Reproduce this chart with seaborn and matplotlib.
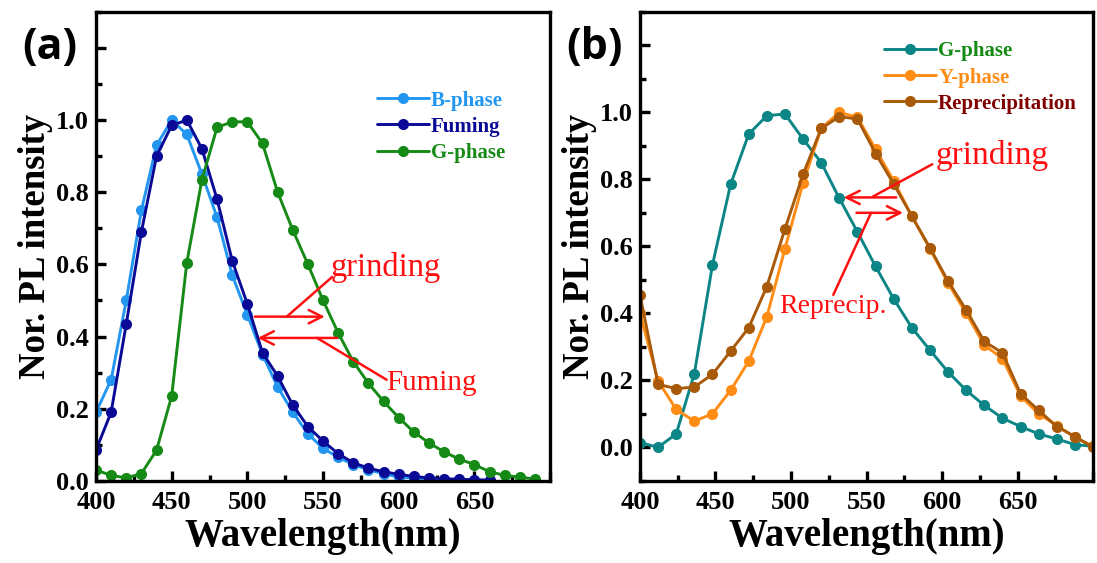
import seaborn as sns
import matplotlib
matplotlib.use('Agg')
import matplotlib.pyplot as plt
import pandas as pd
import numpy as np
from matplotlib.ticker import MultipleLocator, FuncFormatter

# Panel (a): spectra sampled every 10 nm
wl_a = list(range(400, 700, 10))
b_phase = [0.19, 0.28, 0.50, 0.75, 0.93, 1.00, 0.96, 0.85, 0.73, 0.57, 0.46, 0.35, 0.26, 0.19, 0.13,
           0.09, 0.065, 0.045, 0.03, 0.02, 0.01, 0.008, 0.005, 0.003, 0.002, 0.001]
fuming = [0.085, 0.19, 0.435, 0.69, 0.90, 0.985, 1.00, 0.92, 0.78, 0.61, 0.49, 0.355, 0.29, 0.21, 0.15,
          0.11, 0.075, 0.05, 0.035, 0.025, 0.018, 0.012, 0.008, 0.006, 0.004, 0.003, 0.002]
g_phase_a = [0.03, 0.015, 0.008, 0.02, 0.085, 0.235, 0.605, 0.835, 0.98, 0.995, 0.995, 0.935, 0.80, 0.695,
             0.60, 0.50, 0.41, 0.33, 0.27, 0.22, 0.175, 0.135, 0.105, 0.08, 0.06, 0.045, 0.025, 0.015,
             0.01, 0.005]

# Panel (b): spectra sampled every 12 nm
wl_b = list(range(400, 701, 12))
g_phase_b = [0.014, 0.0, 0.04, 0.22, 0.545, 0.785, 0.935, 0.99, 0.995, 0.92, 0.85, 0.743, 0.643, 0.54,
             0.443, 0.357, 0.29, 0.225, 0.17, 0.125, 0.087, 0.062, 0.04, 0.025, 0.008, 0.003]
y_phase = [0.40, 0.198, 0.113, 0.078, 0.10, 0.17, 0.257, 0.39, 0.593, 0.79, 0.952, 1.0, 0.985, 0.89,
           0.795, 0.69, 0.593, 0.49, 0.40, 0.305, 0.265, 0.153, 0.10, 0.065, 0.03, 0.003]
reprecip = [0.455, 0.188, 0.175, 0.18, 0.218, 0.287, 0.357, 0.48, 0.652, 0.815, 0.952, 0.987, 0.98,
            0.877, 0.786, 0.69, 0.595, 0.496, 0.41, 0.316, 0.282, 0.16, 0.11, 0.062, 0.032, 0.0]

series_a = [('B-phase', wl_a[:len(b_phase)], b_phase, '#2396f0', '#2396f0'),
            ('Fuming', wl_a[:len(fuming)], fuming, '#0a0a96', '#0a0a96'),
            ('G-phase', wl_a, g_phase_a, '#168a16', '#168a16')]
series_b = [('G-phase', wl_b, g_phase_b, '#0b8585', '#138a13'),
            ('Y-phase', wl_b, y_phase, '#ff8c14', '#ff8c14'),
            ('Reprecipitation', wl_b, reprecip, '#a85a0a', '#800000')]

sns.set_theme(style='ticks')
plt.rcParams['font.family'] = ['Liberation Serif', 'DejaVu Serif']
plt.rcParams['axes.linewidth'] = 2.4
for k in ['text.color', 'axes.edgecolor', 'axes.labelcolor', 'xtick.color', 'ytick.color']:
    plt.rcParams[k] = 'black'

fig = plt.figure(figsize=(10.97, 5.63), dpi=100)
ax_a = fig.add_axes([0.0875, 0.146, 0.414, 0.833])
ax_b = fig.add_axes([0.5834, 0.146, 0.413, 0.833])


def draw(ax, series):
    for name, x, y, c, tc in series:
        df = pd.DataFrame({'wl': x, 'I': y})
        sns.lineplot(data=df, x='wl', y='I', ax=ax, color=c, lw=2.1, marker='o', markersize=8,
                     markeredgewidth=0, label=name)


def style(ax, ylim):
    ax.set_xlim(400, 700)
    ax.set_ylim(*ylim)
    ax.xaxis.set_major_locator(MultipleLocator(50))
    ax.xaxis.set_minor_locator(MultipleLocator(25))
    ax.yaxis.set_major_locator(MultipleLocator(0.2))
    ax.yaxis.set_minor_locator(MultipleLocator(0.1))
    ax.xaxis.set_major_formatter(FuncFormatter(lambda v, p: '' if v > 660 else '%d' % v))
    ax.yaxis.set_major_formatter(FuncFormatter(lambda v, p: '' if v > 1.05 or v < -0.05 else '%.1f' % v))
    ax.tick_params(which='major', direction='in', length=7, width=2.4, labelsize=19, pad=5)
    ax.tick_params(axis='x', which='major', pad=7)
    ax.tick_params(which='minor', direction='in', length=4, width=2.4)
    for lab in ax.get_xticklabels() + ax.get_yticklabels():
        lab.set_fontweight('bold')
    ax.set_xlabel('Wavelength(nm)', fontsize=28, fontweight='bold', labelpad=3)
    ax.set_ylabel('Nor. PL intensity', fontsize=26.5, fontweight='bold', labelpad=2)
    for s in ax.spines.values():
        s.set_visible(True)
        s.set_linewidth(2.4)


def legend(ax, series, anchor):
    leg = ax.legend(loc='upper left', bbox_to_anchor=anchor, frameon=False, handlelength=2.5,
                    handletextpad=0.1, labelspacing=0.3, borderaxespad=0,
                    prop={'family': 'Liberation Serif', 'weight': 'bold', 'size': 15})
    for t, s in zip(leg.get_texts(), series):
        t.set_color(s[4])


draw(ax_a, series_a)
style(ax_a, (0, 1.3))
legend(ax_a, series_a, (0.6, 0.85))

draw(ax_b, series_b)
style(ax_b, (-0.1, 1.3))
legend(ax_b, series_b, (0.52, 0.955))

red = '#ff1010'
arrow = dict(arrowstyle='->', color=red, lw=1.8, mutation_scale=24)
# panel (a) annotations
ax_a.annotate('', xy=(553, 0.455), xytext=(503, 0.455), arrowprops=arrow)
ax_a.annotate('', xy=(505, 0.396), xytext=(561, 0.396), arrowprops=arrow)
ax_a.plot([526, 556], [0.455, 0.565], color=red, lw=1.8)
ax_a.plot([546, 592], [0.396, 0.28], color=red, lw=1.8)
ax_a.text(555, 0.59, 'grinding', color=red, fontsize=23.5, va='center', ha='left')
ax_a.text(592, 0.27, 'Fuming', color=red, fontsize=21, va='center', ha='left')

# panel (b) annotations
ax_b.annotate('', xy=(533, 0.746), xytext=(571.5, 0.746), arrowprops=arrow)
ax_b.annotate('', xy=(576, 0.70), xytext=(541.5, 0.70), arrowprops=arrow)
ax_b.plot([554, 593.5], [0.748, 0.845], color=red, lw=1.8)
ax_b.plot([553, 528], [0.70, 0.455], color=red, lw=1.8)
ax_b.text(596, 0.87, 'grinding', color=red, fontsize=24, va='center', ha='left')
ax_b.text(492, 0.42, 'Reprecip.', color=red, fontsize=20, va='center', ha='left')

fig.text(0.02, 0.915, '(a)', fontsize=31, fontweight='bold', family=['Open Sans', 'DejaVu Sans'], va='center')
fig.text(0.516, 0.915, '(b)', fontsize=31, fontweight='bold', family=['Open Sans', 'DejaVu Sans'], va='center')

fig.savefig('out.png', dpi=100)
